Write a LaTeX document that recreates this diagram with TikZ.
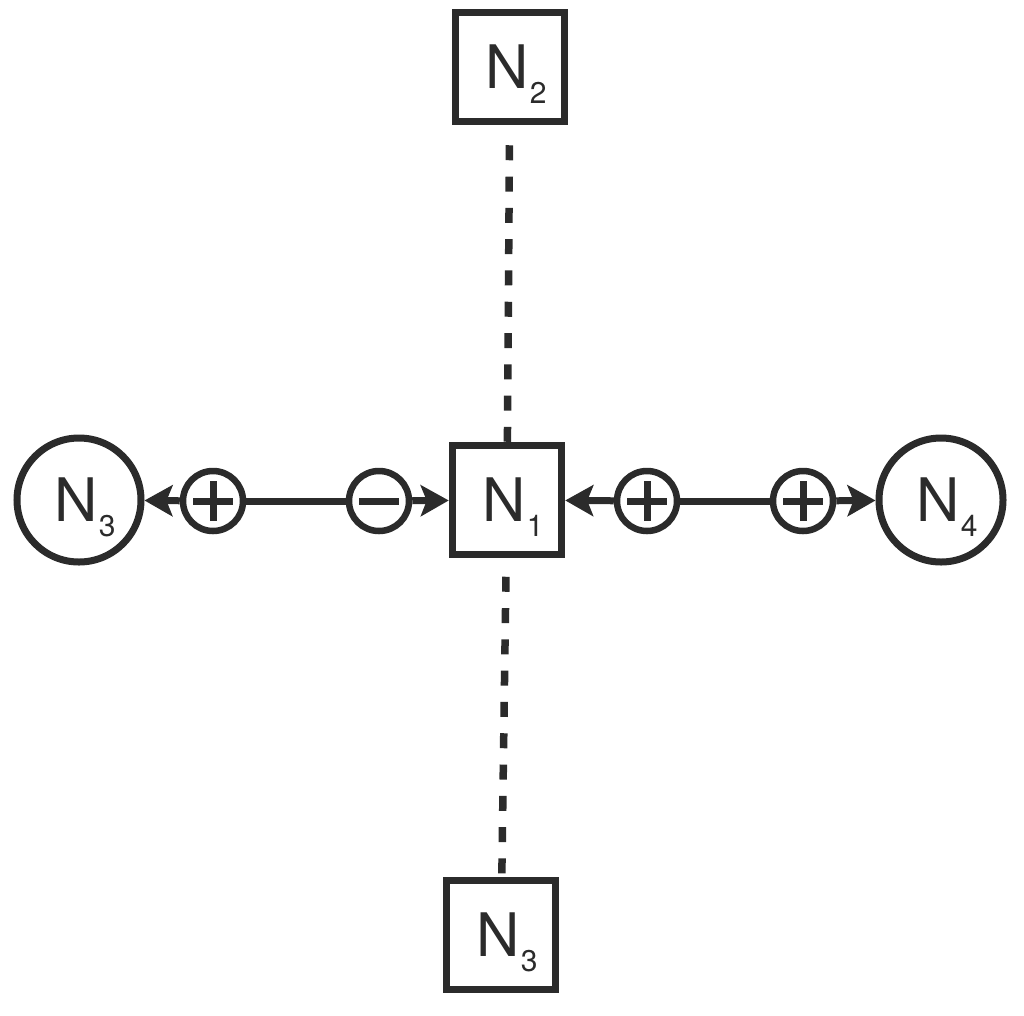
\documentclass[tikz,border=0pt]{standalone}
\usepackage{fontspec}
\setmainfont{TeX Gyre Heros}
\usetikzlibrary{arrows.meta}
\definecolor{ink}{HTML}{2B2B2B}
\newcommand{\nlab}[1]{\kern12pt N\kern1pt\smash{\raisebox{-15pt}{\fontsize{30}{30}\selectfont #1}}}
\tikzset{
  labfont/.style={font=\fontsize{60}{60}\selectfont, text=ink},
  boxnode/.style={draw=ink, line width=7.5pt, minimum width=109pt, minimum height=109pt, inner sep=0pt, labfont},
  circnode/.style={circle, draw=ink, line width=7pt, minimum size=124pt, inner sep=0pt, labfont},
  signnode/.style={circle, draw=ink, line width=6.5pt, minimum size=60pt, inner sep=0pt},
  plusnode/.style={signnode, path picture={
      \draw[ink, line width=7pt] ([xshift=-20pt]path picture bounding box.center) -- ([xshift=20pt]path picture bounding box.center);
      \draw[ink, line width=7pt] ([yshift=-20pt]path picture bounding box.center) -- ([yshift=20pt]path picture bounding box.center);}},
  minusnode/.style={signnode, path picture={
      \draw[ink, line width=7pt] ([xshift=-20pt]path picture bounding box.center) -- ([xshift=20pt]path picture bounding box.center);}},
  link/.style={draw=ink, line width=7pt},
  arrlink/.style={link, -{Stealth[length=28pt, width=31pt, inset=6pt]}},
  dashlink/.style={draw=ink, line width=7.5pt, dash pattern=on 15pt off 16.3pt}
}
\begin{document}
\begin{tikzpicture}[x=1pt, y=-1pt]
\useasboundingbox (0,0) rectangle (1024,1015);
\node[boxnode] (N2) at (510,67) {\nlab{2}};
\node[boxnode] (N1) at (507,500) {\nlab{1}};
\node[boxnode] (N3b) at (501,935) {\nlab{3}};
\node[circnode] (N3c) at (79,500) {\nlab{3}};
\node[circnode] (N4) at (941,500) {\nlab{4}};
\node[plusnode] (p1) at (213,501) {};
\node[minusnode] (m1) at (379,501) {};
\node[plusnode] (p2) at (647,501) {};
\node[plusnode] (p3) at (803,501) {};
\draw[link] (p1) -- (m1);
\draw[arrlink] (p1) -- (N3c);
\draw[arrlink] (m1) -- (N1);
\draw[link] (p2) -- (p3);
\draw[arrlink] (p2) -- (N1);
\draw[arrlink] (p3) -- (N4);
\draw[dashlink, shorten <=20pt] (N2) -- (N1);
\draw[dashlink, shorten <=18.5pt] (N1) -- (N3b);
\end{tikzpicture}
\end{document}
